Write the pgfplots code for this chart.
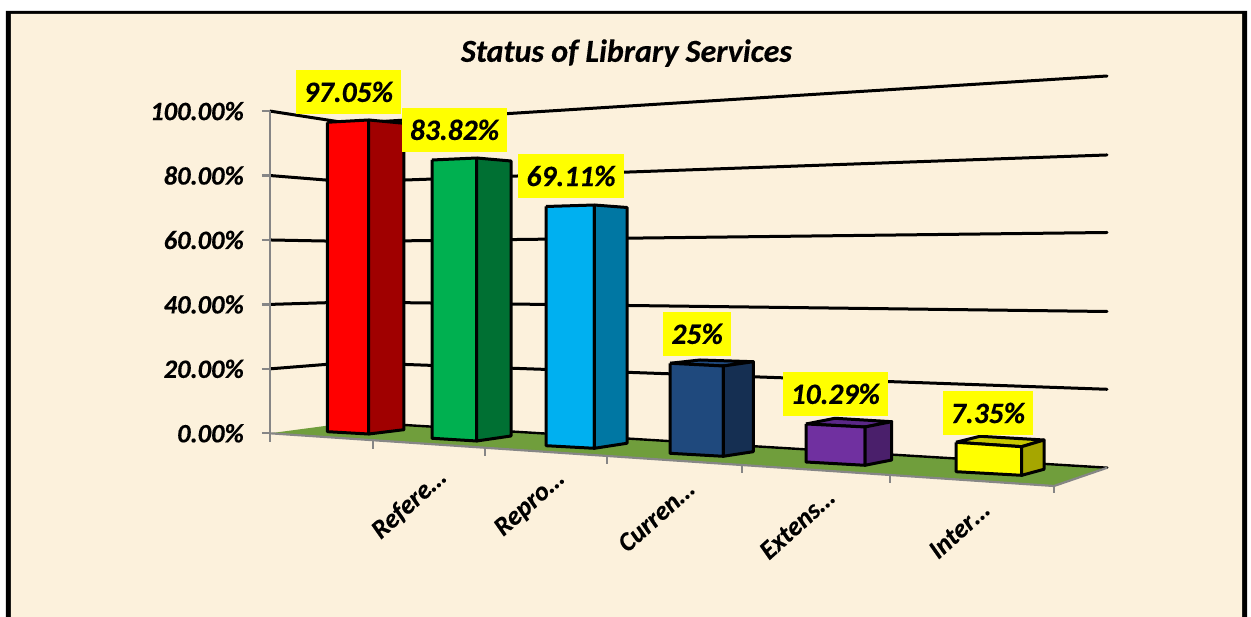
\documentclass[border=0pt]{standalone}
\usepackage{fontspec}
\setmainfont{Carlito}[BoldItalicFeatures={FakeBold=0.35}]
\usepackage{pgfplots}
\pgfplotsset{compat=1.18}
\definecolor{cream}{RGB}{252,241,220}
\definecolor{floorg}{RGB}{112,158,60}
\definecolor{axgray}{RGB}{134,134,134}
\definecolor{redF}{RGB}{255,0,0}
\definecolor{redS}{RGB}{160,0,0}
\definecolor{greenF}{RGB}{0,176,80}
\definecolor{greenS}{RGB}{0,112,51}
\definecolor{blueF}{RGB}{0,176,240}
\definecolor{blueS}{RGB}{0,119,163}
\definecolor{navyF}{RGB}{31,73,125}
\definecolor{navyS}{RGB}{21,47,82}
\definecolor{purpT}{RGB}{90,39,135}
\definecolor{purpF}{RGB}{112,48,160}
\definecolor{purpS}{RGB}{74,31,107}
\definecolor{yelF}{RGB}{255,255,0}
\definecolor{yelT}{RGB}{200,200,0}
\definecolor{yelS}{RGB}{166,166,0}
\tikzset{
 bar3/.style={draw=black,line width=3pt,line join=round,fill=#1},
 grid3/.style={draw=black,line width=3pt,line cap=round,line join=round},
 tk/.style={draw=axgray,line width=2.2pt},
 dl/.style={fill=yelF,inner sep=0pt,minimum height=43.7pt,font=\fontsize{29.5}{30}\selectfont\bfseries\itshape},
 xl/.style={rotate=42,font=\fontsize{26.5}{27}\selectfont\bfseries\itshape}
}
\begin{document}
\begin{tikzpicture}
\begin{axis}[
 scale only axis,width=837pt,height=322.2pt,
 xmin=270,xmax=1107,ymin=0,ymax=100,clip=false,
 axis x line=none,axis y line=left,axis on top=true,
 axis line style={-,draw=axgray,line width=2.2pt},
 ytick={0,20,40,60,80,100},
 yticklabels={0.00\%,20.00\%,40.00\%,60.00\%,80.00\%,100.00\%},
 tick align=outside,major tick length=8pt,
 ytick style={draw=axgray,line width=2.2pt},
 y tick label style={font=\fontsize{26.5}{27}\selectfont\bfseries\itshape,inner sep=0pt,xshift=-18pt},
]
% page and frame
\addplot[fill=white,draw=none] coordinates {(0,134.48)(1251,134.48)(1251,-57.0)(0,-57.0)(0,134.48)};
\addplot[fill=black,draw=none] coordinates {(6,131.07)(1247,131.07)(1247,-57.0)(6,-57.0)(6,131.07)};
\addplot[fill=cream,draw=none] coordinates {(11,130.14)(1242,130.14)(1242,-57.0)(11,-57.0)(11,130.14)};
% walls
\addplot[grid3] coordinates {(270,100)(350,96.15)(1107,110.89)};
\addplot[grid3] coordinates {(270,80)(350,78.0)(1107,86.38)};
\addplot[grid3] coordinates {(270,60)(350,59.53)(1107,62.32)};
\addplot[grid3] coordinates {(270,40)(350,40.75)(1107,37.8)};
\addplot[grid3] coordinates {(270,20)(350,21.97)(1107,13.66)};
% floor
\addplot[fill=floorg,draw=none] coordinates {(270,0)(355,3.51)(1107.3,-10.68)(1054,-16.36)(270,0)};
\addplot[grid3,line width=2.4pt] coordinates {(355,3.51)(1107.3,-10.68)};
\addplot[tk] coordinates {(270,0)(1054,-16.36)(1107.3,-10.68)};
\addplot[tk] coordinates {(270,0)(270,-2.7)};
\addplot[tk] coordinates {(372.7,-2.14)(372.7,-4.87)};
\addplot[tk] coordinates {(485,-4.5)(485,-7.05)};
\addplot[tk] coordinates {(607.3,-7.05)(607.3,-9.53)};
\addplot[tk] coordinates {(742,-9.84)(742,-12.32)};
\addplot[tk] coordinates {(890,-12.94)(890,-15.39)};
\addplot[tk] coordinates {(1054,-16.36)(1054,-18.53)};
% red
\addplot[bar3=redF] coordinates {(327.3,96.53)(368.7,97.24)(368.7,-0.22)(327.3,0.50)(327.3,96.53)};
\addplot[bar3=redS] coordinates {(368.7,97.24)(404,96.21)(404,1.12)(368.7,-0.22)(368.7,97.24)};
% green
\addplot[bar3=greenF] coordinates {(432,84.82)(476.7,85.44)(476.7,-2.39)(432,-1.55)(432,84.82)};
\addplot[bar3=greenS] coordinates {(476.7,85.44)(511,84.51)(511,-0.84)(476.7,-2.39)(476.7,85.44)};
% blue
\addplot[bar3=blueF] coordinates {(546,70.39)(594.3,70.85)(594.3,-4.66)(546,-3.85)(546,70.39)};
\addplot[bar3=blueS] coordinates {(594.3,70.85)(627,70.08)(627,-3.10)(594.3,-4.66)(594.3,70.85)};
% navy
\addplot[bar3=navyF] coordinates {(670,21.73)(700,22.75)(753.3,22.22)(723.3,20.89)(670,21.73)};
\addplot[bar3=navyF] coordinates {(670,21.73)(723.3,20.89)(723.3,-7.14)(670,-6.21)(670,21.73)};
\addplot[bar3=navyS] coordinates {(723.3,20.89)(753.3,22.22)(753.3,-5.71)(723.3,-7.14)(723.3,20.89)};
% purple
\addplot[bar3=purpT] coordinates {(806,2.89)(835,4.66)(891.7,3.60)(865,1.96)(806,2.89)};
\addplot[bar3=purpF] coordinates {(806,2.89)(865,1.96)(865,-9.93)(806,-8.91)(806,2.89)};
\addplot[bar3=purpS] coordinates {(865,1.96)(891.7,3.60)(891.7,-8.29)(865,-9.93)(865,1.96)};
% yellow
\addplot[bar3=yelT] coordinates {(956,-2.79)(980,-0.93)(1044,-2.08)(1021.7,-4.16)(956,-2.79)};
\addplot[bar3=yelF] coordinates {(956,-2.79)(1021.7,-4.16)(1021.7,-13.04)(956,-11.92)(956,-2.79)};
\addplot[bar3=yelS] coordinates {(1021.7,-4.16)(1044,-2.08)(1044,-11.17)(1021.7,-13.04)(1021.7,-4.16)};
% labels
\node[dl,minimum width=105pt] at (axis cs:348.5,105.97) {97.05\%};
\node[dl,minimum width=105pt] at (axis cs:454.5,94.18) {83.82\%};
\node[dl,minimum width=106pt] at (axis cs:571,79.86) {69.11\%};
\node[dl,minimum width=67.7pt] at (axis cs:697.2,30.87) {25\%};
\node[dl,minimum width=104.7pt] at (axis cs:835.3,12.24) {10.29\%};
\node[dl,minimum width=90pt] at (axis cs:988,6.3) {7.35\%};
\node[font=\fontsize{32}{33}\selectfont\bfseries\itshape] at (axis cs:626.5,118.0) {Status of Library Services};
\node[xl] at (axis cs:409,-22.0) {Refere…};
\node[xl] at (axis cs:530,-22.0) {Repro…};
\node[xl] at (axis cs:656,-25.7) {Curren…};
\node[xl] at (axis cs:797,-28.2) {Extens…};
\node[xl] at (axis cs:959,-30.0) {Inter…};
\end{axis}
\end{tikzpicture}
\end{document}
